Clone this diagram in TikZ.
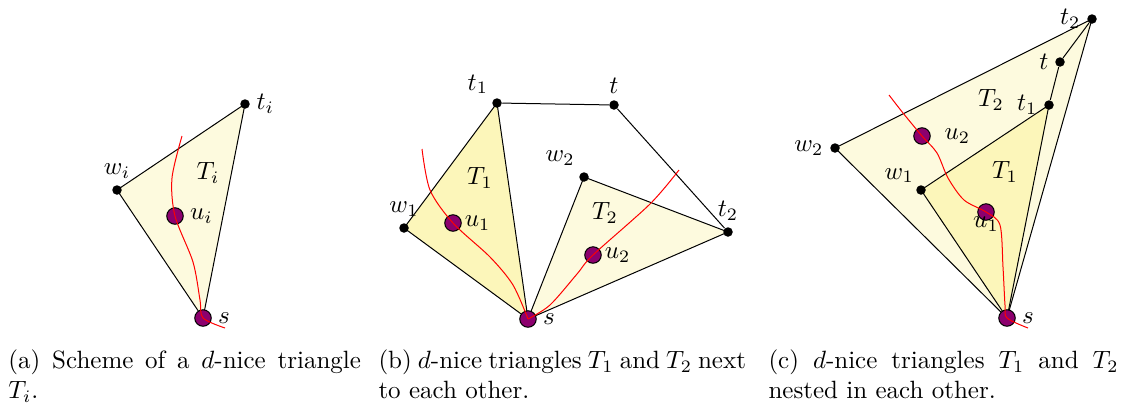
\documentclass[tikz,border=0pt]{standalone}
\usepackage{amsmath,amssymb}
\usepackage{tikz}
\usetikzlibrary{backgrounds}
\definecolor{giallochiaro}{RGB}{253,250,222}
\definecolor{giallo}{RGB}{252,246,186}
\definecolor{viola}{RGB}{140,0,110}

\begin{document}
\begin{tikzpicture}[x=0.4pt, y=-0.4pt,
    punto/.style={circle, fill=black, inner sep=0pt, minimum size=3.8pt},
    nodo/.style={circle, draw=black, fill=viola, inner sep=0pt, minimum size=6.6pt},
    cammino/.style={red},
    didascalia/.style={anchor=north west, inner sep=0pt, text width=141pt, align=justify}]
    \useasboundingbox (0,0) rectangle (1121,408);

    % (a) Triangolo T_i
    \node[punto, label={[label distance=-1pt]above:$w_i$}] (wa) at (117,190) {};
    \node[punto, label={[label distance=-1pt]right:$t_i$}] (ta) at (245,104) {};
    \node[nodo, label={[label distance=-1pt]right:$s$}] (sa) at (203,318) {};
    \node[nodo, label={[label distance=-1pt]right:$u_i$}] (ua) at (175,216) {};
    \node (Ta) at (208,173) {$T_i$};
    \begin{scope}[on background layer]
        \filldraw[fill=giallochiaro] (sa.center) -- (wa.center) -- (ta.center) -- cycle;
    \end{scope}
    \coordinate (ainizio) at (182,136);
    \coordinate (afine) at (225,328);
    \draw[cammino] plot[smooth] coordinates {(ainizio) (172,178) (ua) (193,262) (200,300) (sa) (afine)};

    % (b) Triangoli T_1 e T_2 affiancati
    \node[punto, label={[label distance=-2pt]above left:$t_1$}] (tb1) at (497,103) {};
    \node[punto, label={[label distance=-1pt]above:$t$}] (tb) at (614,105) {};
    \node[punto, label={[label distance=-1pt]100:$w_2$}] (wb2) at (584,177) {};
    \node[punto, label={[label distance=-1pt]above:$t_2$}] (tb2) at (728,232) {};
    \node[punto, label={[label distance=-1pt]above:$w_1$}] (wb1) at (404,228) {};
    \node[nodo, label={[label distance=-1pt]right:$s$}] (sb) at (528,319) {};
    \node[nodo, label={[inner sep=1pt]right:$u_1$}] (ub1) at (453,223) {};
    \node[nodo, label={[inner sep=1pt]right:$u_2$}] (ub2) at (593,255) {};
    \node (Tb1) at (480,178) {$T_1$};
    \node (Tb2) at (605,213) {$T_2$};
    \begin{scope}[on background layer]
        \filldraw[fill=giallo] (sb.center) -- (wb1.center) -- (tb1.center) -- cycle;
        \filldraw[fill=giallochiaro] (sb.center) -- (wb2.center) -- (tb2.center) -- cycle;
        \draw (tb1) -- (tb) -- (tb2);
    \end{scope}
    \coordinate (binizio) at (422,149);
    \coordinate (bfine) at (679,170);
    \draw[cammino] plot[smooth] coordinates {(binizio) (430,190) (ub1) (490,257) (513,285) (sb)};
    \draw[cammino] plot[smooth] coordinates {(sb) (550,305) (577,274) (ub2) (650,204) (bfine)};

    % (c) Triangoli T_1 e T_2 annidati
    \node[punto, label={[label distance=-1pt]left:$t_2$}] (tc2) at (1092,19) {};
    \node[punto, label={[label distance=-1pt]left:$t$}] (tc) at (1060,62) {};
    \node[punto, label={[label distance=-1pt]left:$t_1$}] (tc1) at (1049,105) {};
    \node[punto, label={[label distance=-1pt]left:$w_2$}] (wc2) at (835,148) {};
    \node[punto, label={[label distance=-3pt]above left:$w_1$}] (wc1) at (921,190) {};
    \node[nodo, label={[label distance=-1pt]right:$s$}] (sc) at (1007,318) {};
    \node[nodo, label={[label distance=2pt]right:$u_2$}] (uc2) at (922,136) {};
    \node[nodo, label={[label distance=-5pt]below:$u_1$}] (uc1) at (986,212) {};
    \node (Tc2) at (991,100) {$T_2$};
    \node (Tc1) at (1005,172) {$T_1$};
    \begin{scope}[on background layer]
        \filldraw[fill=giallochiaro] (sc.center) -- (wc2.center) -- (tc2.center) -- cycle;
        \filldraw[fill=giallo] (sc.center) -- (wc1.center) -- (tc1.center) -- cycle;
        \draw (tc1) -- (tc) -- (tc2);
    \end{scope}
    \coordinate (cinizio) at (889,95);
    \coordinate (cfine) at (1028,328);
    \draw[cammino] plot[smooth] coordinates {(cinizio) (903,113) (uc2) (937,153) (948,178) (964,200) (uc1) (1000,225) (1003,267) (1005,305) (sc) (cfine)};

    % Didascalie
    \node[didascalia] (capa) at (8,349) {(a) Scheme of a $d$-nice triangle $T_i$.};
    \node[didascalia, text width=147pt] (capb) at (378,349) {(b) $d$-nice triangles $T_1$ and $T_2$ next to each other.};
    \node[didascalia, text width=140pt] (capc) at (768,349) {(c) $d$-nice triangles $T_1$ and $T_2$ nested in each other.};
\end{tikzpicture}
\end{document}
